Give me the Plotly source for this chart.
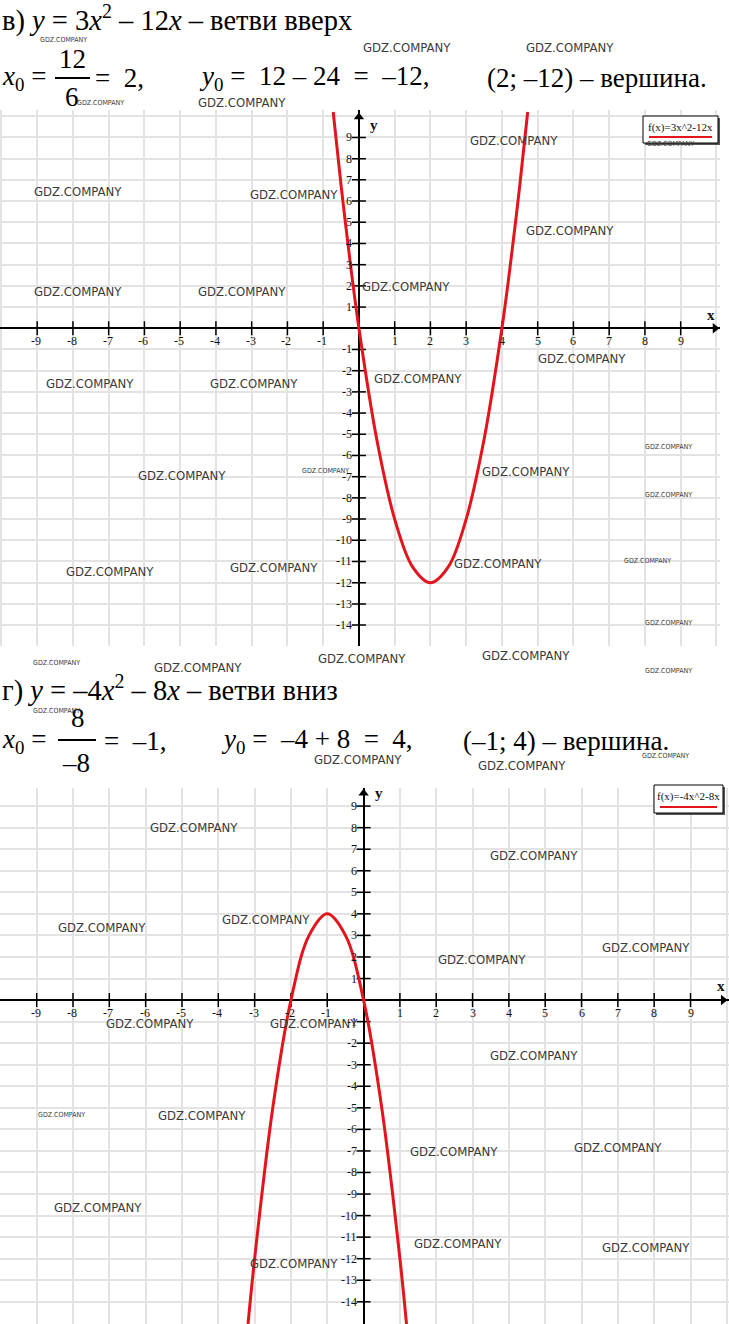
import plotly.graph_objects as go

W, H = 729, 1324

# parabola 1: y = 3x^2 - 12x
c1_x = [-0.72, -0.5, -0.25, 0, 0.5, 1, 1.5, 2, 2.5, 3, 3.5, 4, 4.25, 4.5, 4.72]
c1_y = [10.2, 6.75, 3.19, 0, -5.25, -9, -11.25, -12, -11.25, -9, -5.25, 0, 3.19, 6.75, 10.2]

# parabola 2: y = -4x^2 - 8x
c2_x = [-3.2, -3, -2.5, -2, -1.5, -1, -0.5, 0, 0.5, 1, 1.2]
c2_y = [-15.36, -12, -5, 0, 3, 4, 3, 0, -5, -12, -15.36]

x_ticks = [-9, -8, -7, -6, -5, -4, -3, -2, -1, 1, 2, 3, 4, 5, 6, 7, 8, 9]
y_ticks = [9, 8, 7, 6, 5, 4, 3, 2, 1, -1, -2, -3, -4, -5, -6, -7, -8, -9, -10, -11, -12, -13, -14]

legend1 = "f(x)=3x^2-12x"
legend2 = "f(x)=-4x^2-8x"

# watermark centres (px) and big/small flag
wm_x = [407, 570, 63, 101, 242, 514, 670, 78, 294, 570, 78, 242, 406, 582, 90, 254, 418,
        668, 325, 182, 526, 668, 110, 274, 498, 647, 668, 362, 526, 56, 198, 668, 56, 665,
        358, 522, 194, 534, 102, 266, 646, 482, 150, 314, 534, 61, 202, 618, 454, 98, 458,
        646, 294]
wm_y = [47, 47, 40, 103, 103, 140, 144, 191, 195, 231, 291, 291, 287, 359, 383, 383, 379,
        447, 471, 475, 471, 495, 571, 567, 563, 561, 623, 659, 655, 663, 667, 671, 711, 756,
        759, 765, 827, 855, 927, 919, 947, 959, 1023, 1023, 1055, 1115, 1115, 1147, 1151,
        1207, 1243, 1247, 1263]
wm_big = [1, 1, 0, 0, 1, 1, 0, 1, 1, 1, 1, 1, 1, 1, 1, 1, 1,
          0, 0, 1, 1, 0, 1, 1, 1, 0, 0, 1, 1, 0, 1, 0, 0, 0,
          1, 1, 1, 1, 1, 1, 1, 1, 1, 1, 1, 0, 1, 1, 1, 1, 1,
          1, 1]

SERIF = "Liberation Serif, Times New Roman, serif"
WMFONT = "Liberation Sans Narrow, DejaVu Sans Condensed, sans-serif"
RED = "#e3141c"


def px(x):
    return x / W


def py(y):
    return 1 - y / H


fig = go.Figure()

panels = [
    dict(xa="x", ya="y", cx=c1_x, cy=c1_y, xr=[-10.04, 10.10], yr=[-15.0, 10.3],
         xdom=[0, 720 / W], ydom=[py(646.3), py(109.9)], arrow_x=9.96, arrow_y=9.97),
    dict(xa="x2", ya="y2", cx=c2_x, cy=c2_y, xr=[-10.01, 10.06], yr=[-15.03, 9.84],
         xdom=[0, 1], ydom=[0, py(788)], arrow_x=9.9, arrow_y=9.6),
]

for i, p in enumerate(panels):
    sfx = "" if i == 0 else "2"
    # tick marks
    fig.add_trace(go.Scatter(x=x_ticks, y=[0] * len(x_ticks), mode="markers", xaxis=p["xa"], yaxis=p["ya"],
                             marker=dict(symbol="line-ns", size=10, line=dict(width=1.5, color="black")),
                             hoverinfo="skip", showlegend=False))
    fig.add_trace(go.Scatter(x=[0] * len(y_ticks), y=y_ticks, mode="markers", xaxis=p["xa"], yaxis=p["ya"],
                             marker=dict(symbol="line-ew", size=10, line=dict(width=1.5, color="black")),
                             hoverinfo="skip", showlegend=False))
    # axis arrows
    fig.add_trace(go.Scatter(x=[p["arrow_x"], 0], y=[0, p["arrow_y"]], mode="markers", xaxis=p["xa"], yaxis=p["ya"],
                             marker=dict(symbol=["triangle-right", "triangle-up"], size=9, color="black"),
                             cliponaxis=False, hoverinfo="skip", showlegend=False))
    # curve
    fig.add_trace(go.Scatter(x=p["cx"], y=p["cy"], mode="lines", xaxis=p["xa"], yaxis=p["ya"],
                             line=dict(color=RED, width=3, shape="spline"), showlegend=False))

    axis_common = dict(showgrid=True, gridcolor="#e3e3e3", gridwidth=2, dtick=1, tick0=0,
                       showticklabels=False, ticks="", zeroline=True, zerolinecolor="black",
                       zerolinewidth=2, showline=False, fixedrange=True)
    fig.layout["xaxis" + sfx] = dict(range=p["xr"], domain=p["xdom"], anchor=p["ya"], **axis_common)
    fig.layout["yaxis" + sfx] = dict(range=p["yr"], domain=p["ydom"], anchor=p["xa"], **axis_common)

    for t in x_ticks:
        fig.add_annotation(x=t, y=0, xref=p["xa"], yref=p["ya"], text=str(t), showarrow=False,
                           xanchor="center", yanchor="middle", yshift=-13, xshift=-1 if t < 0 else 0,
                           font=dict(family=SERIF, size=12, color="#111"))
    for t in y_ticks:
        fig.add_annotation(x=0, y=t, xref=p["xa"], yref=p["ya"], text=str(t), showarrow=False,
                           xanchor="right", yanchor="middle", xshift=-5,
                           font=dict(family=SERIF, size=12, color="#111"))
    fig.add_annotation(x=9.84, y=0.63, xref=p["xa"], yref=p["ya"], text="<b>x</b>", showarrow=False,
                       xanchor="center", yanchor="middle", font=dict(family=SERIF, size=15, color="#111"))
    fig.add_annotation(x=0.42, y=9.6, xref=p["xa"], yref=p["ya"], text="<b>y</b>", showarrow=False,
                       xanchor="center", yanchor="middle", font=dict(family=SERIF, size=15, color="#111"))

# legend boxes
for (x0, y0, x1, y1, txt) in [(643, 116, 718, 143, legend1), (654, 785, 723, 813, legend2)]:
    fig.add_shape(type="rect", xref="paper", yref="paper", x0=px(x0 + 2), x1=px(x1 + 2),
                  y0=py(y1 + 2), y1=py(y0 + 2), fillcolor="#555", line=dict(width=0))
    fig.add_shape(type="rect", xref="paper", yref="paper", x0=px(x0), x1=px(x1), y0=py(y1), y1=py(y0),
                  fillcolor="white", line=dict(color="black", width=1))
    fig.add_annotation(x=px((x0 + x1) / 2), y=py(y0 + 11), xref="paper", yref="paper", text=txt,
                       showarrow=False, xanchor="center", yanchor="middle",
                       font=dict(family=SERIF, size=11, color="#111"))
    fig.add_shape(type="line", xref="paper", yref="paper", x0=px(x0 + 6), x1=px(x1 - 6),
                  y0=py(y1 - 6), y1=py(y1 - 6), line=dict(color=RED, width=2))

# header text
MATH = dict(family=SERIF, size=27, color="black")
MATH_BIG = dict(family=SERIF, size=28.5, color="black")
headers = [
    (0, 18, "в) <i>y</i> = 3<i>x</i><sup>2</sup> – 12<i>x</i> – ветви вверх", "left", MATH_BIG),
    (0, 78, "<i>x</i><sub>0</sub> =", "left", MATH),
    (72, 59, "12", "center", MATH),
    (72, 97, "6", "center", MATH),
    (93, 78, "=  2,", "left", MATH),
    (197, 78, "<i>y</i><sub>0</sub> =  12 – 24  =  –12,", "left", MATH),
    (485, 78, "(2; –12) – вершина.", "left", MATH),
    (0, 688, "г) <i>y</i> = –4<i>x</i><sup>2</sup> – 8<i>x</i> – ветви вниз", "left", MATH_BIG),
    (0, 741, "<i>x</i><sub>0</sub> =", "left", MATH),
    (78, 718, "8", "center", MATH),
    (76, 763, "–8", "center", MATH),
    (102, 741, "=  –1,", "left", MATH),
    (219, 741, "<i>y</i><sub>0</sub> =  –4 + 8  =  4,", "left", MATH),
    (461, 741, "(–1; 4) – вершина.", "left", MATH),
]
for x, y, txt, anc, fnt in headers:
    fig.add_annotation(x=px(x), y=py(y), xref="paper", yref="paper", text=txt, showarrow=False,
                       xanchor=anc, yanchor="middle", font=fnt)

# fraction bars: paper shapes plus arrow-style annotations (no head)
for (x0, x1, y) in [(55, 90, 78), (58, 96, 740)]:
    fig.add_shape(type="line", xref="paper", yref="paper", layer="above",
                  x0=px(x0), x1=px(x1), y0=py(y), y1=py(y), line=dict(color="black", width=2))
    fig.add_annotation(x=px(x1), y=py(y), xref="paper", yref="paper", text="", showarrow=True,
                       ax=x0 - x1, ay=0, arrowhead=0, arrowwidth=2, arrowcolor="black",
                       standoff=0, startstandoff=0, xanchor="center", yanchor="middle")

# watermarks
for x, y, big in zip(wm_x, wm_y, wm_big):
    fig.add_annotation(x=px(x), y=py(y), xref="paper", yref="paper", text="GDZ.COMPANY", showarrow=False,
                       xanchor="center", yanchor="middle",
                       font=dict(family=WMFONT, size=13 if big else 7, color="#3a3a3a"))

fig.update_layout(width=W, height=H, margin=dict(l=0, r=0, t=0, b=0),
                  paper_bgcolor="white", plot_bgcolor="white", showlegend=False)

fig.write_html("out.html", config={"displayModeBar": False},
               post_script="document.body.style.margin='0px';")
